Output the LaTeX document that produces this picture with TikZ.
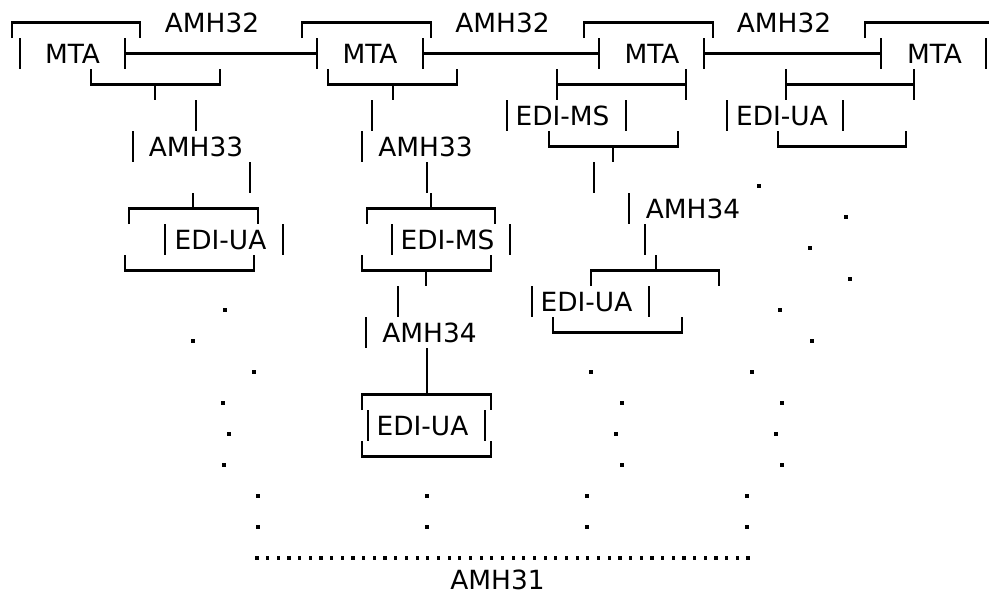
\documentclass[tikz,border=0pt]{standalone}
\usepackage{fontspec}
\setmainfont{DejaVu Sans}
\begin{document}
\begin{tikzpicture}[x=1pt,y=-1pt,
  lbl/.style={font=\fontsize{26.4}{30}\selectfont, inner sep=0pt, anchor=base},
  ln/.style={line width=2.3pt, line cap=butt, line join=miter}]
\useasboundingbox (0,0) rectangle (989,592);
\newcommand{\pdot}[2]{\fill (#1-1.6,#2-1.6) rectangle (#1+1.6,#2+1.6);}
% ---------- labels ----------
\node[lbl] (amha) at (212,32.5) {AMH32};
\node[lbl] (amhb) at (502.5,32.5) {AMH32};
\node[lbl] (amhc) at (784,32.5) {AMH32};
\node[lbl] (mta1) at (72.5,63.5) {MTA};
\node[lbl] (mta2) at (370,63.5) {MTA};
\node[lbl] (mta3) at (652,63.5) {MTA};
\node[lbl] (mta4) at (934.5,63.5) {MTA};
\node[lbl] (edims1) at (562.5,125.5) {EDI-MS};
\node[lbl] (ediua4) at (782,125.5) {EDI-UA};
\node[lbl] (amh33a) at (196,156.5) {AMH33};
\node[lbl] (amh33b) at (425.5,156.5) {AMH33};
\node[lbl] (amh34c) at (693,218.5) {AMH34};
\node[lbl] (ediua1) at (220.5,249.5) {EDI-UA};
\node[lbl] (edims2) at (447.5,249.5) {EDI-MS};
\node[lbl] (ediua3) at (586.5,311.5) {EDI-UA};
\node[lbl] (amh34b) at (429.5,342.5) {AMH34};
\node[lbl] (ediua2) at (422.5,435.5) {EDI-UA};
\node[lbl] (amh31) at (497.5,589.3) {AMH31};
% ---------- column 1 ----------
\draw[ln] (12,38) -- (12,22.5) -- (140,22.5) -- (140,38);
\draw[ln] (20,38) -- (20,69);
\draw[ln] (125,38) -- (125,69);
\draw[ln] (125,53.5) -- (317,53.5);
\draw[ln] (317,38) -- (317,69);
\draw[ln] (91,69) -- (91,84.5) -- (220,84.5) -- (220,69);
\draw[ln] (155,84.5) -- (155,100);
\draw[ln] (196,100) -- (196,131);
\draw[ln] (133,131) -- (133,162);
\draw[ln] (250,162) -- (250,193);
\draw[ln] (193,193) -- (193,208.5);
\draw[ln] (129,224) -- (129,208.5) -- (258,208.5) -- (258,224);
\draw[ln] (165,224) -- (165,255);
\draw[ln] (283,224) -- (283,255);
\draw[ln] (125,255) -- (125,270.5) -- (254,270.5) -- (254,255);
% ---------- column 2 ----------
\draw[ln] (302,38) -- (302,22.5) -- (431,22.5) -- (431,38);
\draw[ln] (423,38) -- (423,69);
\draw[ln] (423,53.5) -- (599,53.5);
\draw[ln] (599,38) -- (599,69);
\draw[ln] (328,69) -- (328,84.5) -- (457,84.5) -- (457,69);
\draw[ln] (393,84.5) -- (393,100);
\draw[ln] (372,100) -- (372,131);
\draw[ln] (362,131) -- (362,162);
\draw[ln] (427,162) -- (427,193);
\draw[ln] (431,193) -- (431,208.5);
\draw[ln] (367,224) -- (367,208.5) -- (495,208.5) -- (495,224);
\draw[ln] (392,224) -- (392,255);
\draw[ln] (510,224) -- (510,255);
\draw[ln] (362,255) -- (362,270.5) -- (491,270.5) -- (491,255);
\draw[ln] (426,270.5) -- (426,286);
\draw[ln] (398,286) -- (398,317);
\draw[ln] (366,317) -- (366,348);
\draw[ln] (427,348) -- (427,394.5);
\draw[ln] (362,410) -- (362,394.5) -- (491,394.5) -- (491,410);
\draw[ln] (368,410) -- (368,441);
\draw[ln] (485,410) -- (485,441);
\draw[ln] (362,441) -- (362,456.5) -- (491,456.5) -- (491,441);
% ---------- column 3 ----------
\draw[ln] (584,38) -- (584,22.5) -- (713,22.5) -- (713,38);
\draw[ln] (704,38) -- (704,69);
\draw[ln] (704,53.5) -- (881,53.5);
\draw[ln] (881,38) -- (881,69);
\draw[ln] (557,69) -- (557,100);
\draw[ln] (686,69) -- (686,100);
\draw[ln] (557,84.5) -- (686,84.5);
\draw[ln] (507,100) -- (507,131);
\draw[ln] (626,100) -- (626,131);
\draw[ln] (549,131) -- (549,146.5) -- (678,146.5) -- (678,131);
\draw[ln] (613,146.5) -- (613,162);
\draw[ln] (594,162) -- (594,193);
\draw[ln] (629,193) -- (629,224);
\draw[ln] (645,224) -- (645,255);
\draw[ln] (656,255) -- (656,270.5);
\draw[ln] (591,286) -- (591,270.5) -- (719,270.5) -- (719,286);
\draw[ln] (532,286) -- (532,317);
\draw[ln] (649,286) -- (649,317);
\draw[ln] (553,317) -- (553,332.5) -- (682,332.5) -- (682,317);
% ---------- column 4 ----------
\draw[ln] (865,38) -- (865,22.5) -- (989,22.5);
\draw[ln] (986,38) -- (986,69);
\draw[ln] (786,69) -- (786,100);
\draw[ln] (914,69) -- (914,100);
\draw[ln] (786,84.5) -- (914,84.5);
\draw[ln] (727,100) -- (727,131);
\draw[ln] (843,100) -- (843,131);
\draw[ln] (778,131) -- (778,146.5) -- (906,146.5) -- (906,131);
% ---------- dots ----------
\pdot{225}{310} \pdot{193}{341} \pdot{254}{372} \pdot{223}{403}
\pdot{229}{434} \pdot{224}{465} \pdot{258}{496} \pdot{258}{527}
\pdot{427}{496} \pdot{427}{527}
\pdot{591}{372} \pdot{622}{403} \pdot{616}{434} \pdot{622}{465}
\pdot{587}{496} \pdot{587}{527}
\pdot{759}{186} \pdot{846}{217} \pdot{810}{248} \pdot{850}{279}
\pdot{780}{310} \pdot{812}{341} \pdot{752}{372} \pdot{782}{403}
\pdot{776}{434} \pdot{782}{465} \pdot{747}{496} \pdot{747}{527}
\foreach \i in {0,...,46} {\pdot{257+\i*10.6739}{558}}
\end{tikzpicture}
\end{document}
